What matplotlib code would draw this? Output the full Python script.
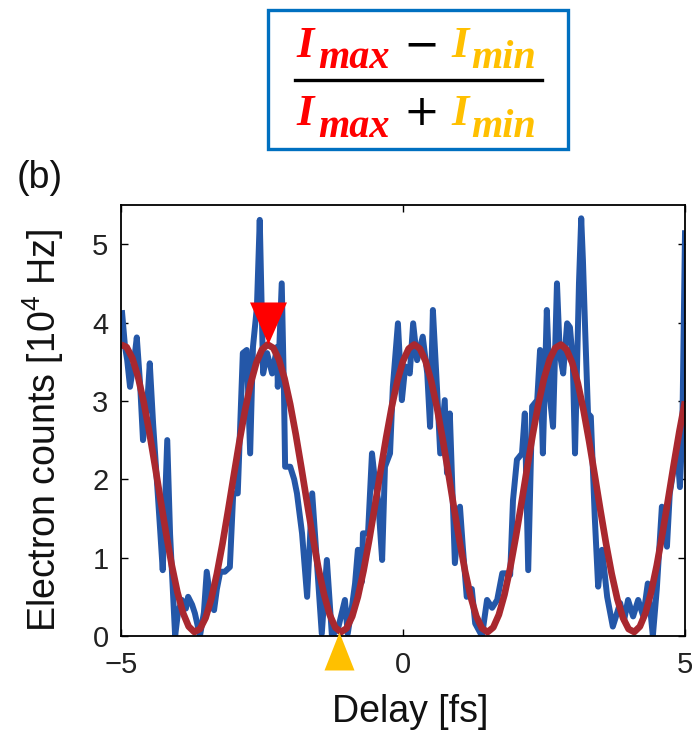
import numpy as np
import matplotlib
matplotlib.use("Agg")
import matplotlib.pyplot as plt
from matplotlib.patches import Rectangle
from matplotlib.lines import Line2D

plt.rcParams['font.family'] = ['Liberation Sans', 'DejaVu Sans']
plt.rcParams['mathtext.fontset'] = 'custom'
plt.rcParams['mathtext.rm'] = 'Liberation Sans'

blue_delay = [-4.98, -4.93, -4.89, -4.84, -4.77, -4.72, -4.66, -4.61, -4.54, -4.49,
              -4.43, -4.38, -4.31, -4.26, -4.18, -4.13, -4.04, -3.99, -3.92, -3.85,
              -3.81, -3.74, -3.69, -3.60, -3.53, -3.48, -3.40, -3.35, -3.30, -3.24,
              -3.16, -3.07, -3.01, -2.93, -2.84, -2.77, -2.71, -2.66, -2.59, -2.54,
              -2.48, -2.41, -2.32, -2.23, -2.22, -2.15, -2.11, -2.09, -2.00, -1.93,
              -1.88, -1.79, -1.70, -1.61, -1.52, -1.44, -1.35, -1.26, -1.15, -1.03,
              -0.98, -0.90, -0.85, -0.80, -0.73, -0.71, -0.62, -0.55, -0.50, -0.44,
              -0.37, -0.32, -0.23, -0.18, -0.09, -0.02, 0.04, 0.12, 0.18, 0.25,
              0.35, 0.43, 0.48, 0.53, 0.60, 0.66, 0.74, 0.78, 0.83, 0.92,
              1.01, 1.06, 1.13, 1.22, 1.28, 1.40, 1.49, 1.58, 1.67, 1.76,
              1.84, 1.90, 1.95, 2.02, 2.11, 2.16, 2.22, 2.29, 2.38, 2.43,
              2.48, 2.55, 2.61, 2.66, 2.73, 2.78, 2.84, 2.91, 2.96, 3.01,
              3.05, 3.12, 3.16, 3.19, 3.23, 3.28, 3.33, 3.40, 3.46, 3.53,
              3.62, 3.72, 3.85, 3.92, 3.99, 4.08, 4.17, 4.26, 4.34, 4.43,
              4.50, 4.59, 4.68, 4.73, 4.86, 4.91, 4.95, 4.96, 5.00]
blue_counts = [4.12, 3.70, 3.52, 3.18, 3.50, 3.81, 3.20, 2.50, 2.90, 3.48,
               2.70, 2.16, 1.40, 0.84, 2.50, 1.30, 0.00, 0.30, 0.46, 0.35,
               0.50, 0.40, 0.29, 0.00, 0.30, 0.82, 0.40, 0.33, 0.60, 0.82,
               0.82, 0.88, 1.82, 1.82, 3.61, 3.65, 2.33, 3.69, 4.20, 5.31,
               3.35, 3.61, 3.35, 3.69, 3.18, 4.50, 3.10, 2.16, 2.16, 2.00,
               1.82, 1.31, 0.50, 1.82, 0.88, 0.03, 0.97, 0.00, 0.10, 0.46,
               0.03, 0.40, 0.67, 1.10, 0.69, 1.31, 1.31, 2.33, 2.00, 1.73,
               0.97, 2.16, 2.33, 3.18, 3.99, 3.01, 3.44, 3.35, 3.99, 3.52,
               3.82, 3.35, 2.67, 4.16, 3.20, 2.33, 3.01, 2.08, 2.84, 0.93,
               1.65, 1.14, 0.50, 0.60, 0.16, 0.00, 0.46, 0.36, 0.46, 0.80,
               0.80, 0.78, 1.73, 2.25, 2.33, 2.84, 0.84, 2.93, 3.01, 3.65,
               2.33, 4.16, 3.01, 2.67, 4.50, 3.60, 3.35, 3.99, 3.94, 3.52,
               2.33, 4.50, 5.33, 4.80, 3.90, 2.84, 2.80, 1.52, 0.63, 1.10,
               0.50, 0.12, 0.42, 0.20, 0.46, 0.25, 0.46, 0.25, 0.67, 0.00,
               0.60, 1.65, 1.14, 1.82, 2.41, 1.90, 2.58, 3.03, 5.14]

# ---- fitted curve, read every 0.1 fs ----
fit_delay = np.round(np.arange(-5.0, 5.05, 0.1), 2)
fit_counts = [3.718, 3.686, 3.548, 3.313, 2.994, 2.611, 2.185, 1.741, 1.306, 0.904,
              0.560, 0.294, 0.121, 0.051, 0.089, 0.231, 0.471, 0.794, 1.180, 1.607,
              2.051, 2.485, 2.884, 3.225, 3.487, 3.655, 3.719, 3.676, 3.529, 3.285,
              2.958, 2.569, 2.140, 1.696, 1.263, 0.867, 0.530, 0.272, 0.109, 0.050,
              0.098, 0.251, 0.500, 0.830, 1.221, 1.652, 2.096, 2.528, 2.922, 3.255,
              3.508, 3.666, 3.720, 3.666, 3.508, 3.255, 2.922, 2.528, 2.096, 1.652,
              1.221, 0.830, 0.500, 0.251, 0.098, 0.050, 0.109, 0.272, 0.530, 0.867,
              1.263, 1.696, 2.140, 2.569, 2.958, 3.285, 3.529, 3.676, 3.719, 3.655,
              3.487, 3.225, 2.884, 2.485, 2.051, 1.607, 1.180, 0.794, 0.471, 0.231,
              0.089, 0.051, 0.121, 0.294, 0.560, 0.904, 1.306, 1.741, 2.185, 2.611,
              2.994]

imax_point = (-2.40, 3.72)
imin_point = (-1.13, 0.05)

x_ticks = [-5, 0, 5]
y_ticks = [0, 1, 2, 3, 4, 5]

W, H = 692, 735
fig = plt.figure(figsize=(W / 100, H / 100), dpi=100)
ax = fig.add_axes([121 / W, 1 - 636 / H, 564 / W, 431 / H])

ax.plot(blue_delay, blue_counts, color='#2457a8', lw=4.3, solid_joinstyle='round')
ax.plot(fit_delay, fit_counts, color='#a9282f', lw=4.8, solid_capstyle='butt')

# triangles marking max / min (apex on the curve)
down_tri = [(0, 0), (-0.44, 1), (0.44, 1), (0, 0)]
up_tri = [(0, 0), (-0.395, -1), (0.395, -1), (0, 0)]
ax.plot(*imax_point, marker=down_tri, ms=60.5, mew=0, color='#ff0000',
        linestyle='none', clip_on=False, zorder=5)
ax.plot(*imin_point, marker=up_tri, ms=54.7, mew=0, color='#ffc000',
        linestyle='none', clip_on=False, zorder=5)

ax.set_xlim(-5, 5)
ax.set_ylim(0, 5.5)
ax.set_xticks(x_ticks)
ax.set_yticks(y_ticks)
ax.tick_params(direction='in', length=5, width=1, top=True, right=True,
               labelsize=21, color='black', labelcolor='#222222')
ax.tick_params(axis='x', pad=11)
ax.tick_params(axis='y', pad=9)
for s in ax.spines.values():
    s.set_linewidth(1.3)

ax.set_xlabel('Delay [fs]', fontsize=27, color='#111111')
ax.set_ylabel(r'Electron counts [10$^{\mathregular{4}}$ Hz]', fontsize=27, color='#111111')
ax.xaxis.set_label_coords(0.512, -0.176)
ax.xaxis.label.set_va('center')
ax.yaxis.set_label_coords(-0.138, 0.476)
ax.yaxis.label.set_va('center')

fig.text(17 / W, 1 - 178 / H, '(b)', fontsize=27, ha='left', va='center', color='#111111')

# ---- contrast formula box ----
def px(x, y):
    return x / W, 1 - y / H

bx0, by0, bx1, by1 = 268, 10, 568, 149
fig.patches.append(Rectangle(px(bx0, by1), (bx1 - bx0) / W, (by1 - by0) / H,
                             transform=fig.transFigure, fill=False,
                             edgecolor='#0070c0', lw=2.4))

serif = dict(family='Liberation Serif', style='italic', weight='bold')
red, gold = '#ff0000', '#ffc000'
for base_I, base_sub, sign in [(57, 68, '\u2212'), (125, 137, '+')]:
    fig.text(*px(296, base_I), 'I', color=red, fontsize=32, va='baseline', **serif)
    fig.text(*px(318, base_sub), 'max', color=red, fontsize=29, va='baseline', **serif)
    fig.text(*px(421, base_I), sign, color='black', fontsize=31, va='baseline',
             ha='center', family='DejaVu Sans')
    fig.text(*px(451, base_I), 'I', color=gold, fontsize=32, va='baseline', **serif)
    fig.text(*px(471, base_sub), 'min', color=gold, fontsize=29, va='baseline', **serif)

fig.lines.append(Line2D([295 / W, 542 / W], [1 - 80 / H, 1 - 80 / H],
                        transform=fig.transFigure, color='black', lw=2.4))

fig.savefig('out.png', dpi=100)
